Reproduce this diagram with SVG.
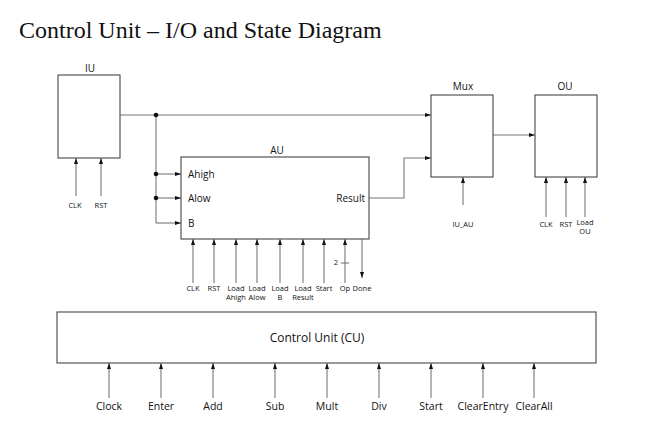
<svg xmlns="http://www.w3.org/2000/svg" width="653" height="440" viewBox="0 0 653 440">
<defs>
<marker id="ah" viewBox="0 0 6 4" refX="6" refY="2" markerWidth="6" markerHeight="4" markerUnits="userSpaceOnUse" orient="auto">
<path d="M0,0 L6,2 L0,4 Z" fill="#111"/>
</marker>
</defs>
<style>
.box{fill:#fff;stroke:#555;stroke-width:1.2}
.ln{fill:none;stroke:#777;stroke-width:1.1}
.ar{fill:none;stroke:#777;stroke-width:1.1;marker-end:url(#ah)}
.t{font-family:"Open Sans","Liberation Sans",sans-serif;fill:#111}
.lbl{font-size:10px;text-anchor:middle}
.port{font-size:10px}
.sm{font-size:7.5px;text-anchor:middle}
.cu{font-size:10.5px;text-anchor:middle}
.dot{fill:#111}
</style>
<rect width="653" height="440" fill="#fff"/>
<text x="19" y="38" font-family="Liberation Serif, serif" font-size="24" fill="#111">Control Unit – I/O and State Diagram</text>

<g id="connectors">
<path class="ar" d="M120,115 H431"/>
<path class="ln" d="M156,115 V223"/>
<path class="ar" d="M156,174 H181"/>
<path class="ar" d="M156,198 H181"/>
<path class="ar" d="M156,223 H181"/>
<path class="ar" d="M369,198 H404 V158 H431"/>
<path class="ar" d="M493,135 H535"/>
<circle class="dot" cx="156" cy="115" r="2.3"/>
<circle class="dot" cx="156" cy="174" r="2.3"/>
<circle class="dot" cx="156" cy="198" r="2.3"/>
<path class="ar" d="M76,196 V158"/>
<path class="ar" d="M101,196 V158"/>
<path class="ar" d="M193,283 V239"/>
<path class="ar" d="M214,283 V239"/>
<path class="ar" d="M236,283 V239"/>
<path class="ar" d="M257,283 V239"/>
<path class="ar" d="M280,283 V239"/>
<path class="ar" d="M303,283 V239"/>
<path class="ar" d="M324,283 V239"/>
<path class="ar" d="M345,283 V239"/>
<path class="ln" d="M341,263 H349"/>
<path class="ar" d="M362,239 V278"/>
<path class="ar" d="M463,205 V177"/>
<path class="ar" d="M546,217 V177"/>
<path class="ar" d="M566,217 V177"/>
<path class="ar" d="M585,217 V177"/>
<path class="ar" d="M109,398 V363"/>
<path class="ar" d="M161,398 V363"/>
<path class="ar" d="M213,398 V363"/>
<path class="ar" d="M275,398 V363"/>
<path class="ar" d="M327,398 V363"/>
<path class="ar" d="M379,398 V363"/>
<path class="ar" d="M431,398 V363"/>
<path class="ar" d="M483,398 V363"/>
<path class="ar" d="M534,398 V363"/>
</g>

<g id="IU">
<rect class="box" x="58" y="75" width="62" height="83"/>
<text class="t lbl" x="90" y="72">IU</text>
<text class="t sm" x="75" y="208">CLK</text>
<text class="t sm" x="101" y="208">RST</text>
</g>

<g id="AU">
<rect class="box" x="181" y="157" width="188" height="82"/>
<text class="t lbl" x="277" y="154">AU</text>
<text class="t port" x="188" y="178">Ahigh</text>
<text class="t port" x="188" y="202">Alow</text>
<text class="t port" x="188" y="227">B</text>
<text class="t port" x="365" y="202" text-anchor="end">Result</text>
<text class="t sm" x="193" y="291">CLK</text>
<text class="t sm" x="214" y="291">RST</text>
<text class="t sm" x="236" y="291">Load</text>
<text class="t sm" x="236" y="300">Ahigh</text>
<text class="t sm" x="257" y="291">Load</text>
<text class="t sm" x="257" y="300">Alow</text>
<text class="t sm" x="280" y="291">Load</text>
<text class="t sm" x="280" y="300">B</text>
<text class="t sm" x="303" y="291">Load</text>
<text class="t sm" x="303" y="300">Result</text>
<text class="t sm" x="324" y="291">Start</text>
<text class="t sm" x="345" y="291">Op</text>
<text class="t sm" x="362" y="291">Done</text>
<text class="t sm" x="336" y="265">2</text>
</g>

<g id="Mux">
<rect class="box" x="431" y="95" width="62" height="82"/>
<text class="t lbl" x="463" y="90">Mux</text>
<text class="t sm" x="463" y="227">IU_AU</text>
</g>

<g id="OU">
<rect class="box" x="535" y="95" width="62" height="82"/>
<text class="t lbl" x="565" y="90">OU</text>
<text class="t sm" x="546" y="227">CLK</text>
<text class="t sm" x="566" y="227">RST</text>
<text class="t sm" x="585" y="225">Load</text>
<text class="t sm" x="585" y="234">OU</text>
</g>

<g id="CU">
<rect class="box" x="57" y="312" width="539" height="51"/>
<text class="t" x="317" y="342" font-size="12" text-anchor="middle">Control Unit (CU)</text>
<text class="t cu" x="109" y="410">Clock</text>
<text class="t cu" x="161" y="410">Enter</text>
<text class="t cu" x="213" y="410">Add</text>
<text class="t cu" x="275" y="410">Sub</text>
<text class="t cu" x="327" y="410">Mult</text>
<text class="t cu" x="379" y="410">Div</text>
<text class="t cu" x="431" y="410">Start</text>
<text class="t cu" x="483" y="410">ClearEntry</text>
<text class="t cu" x="534" y="410">ClearAll</text>
</g>
</svg>
